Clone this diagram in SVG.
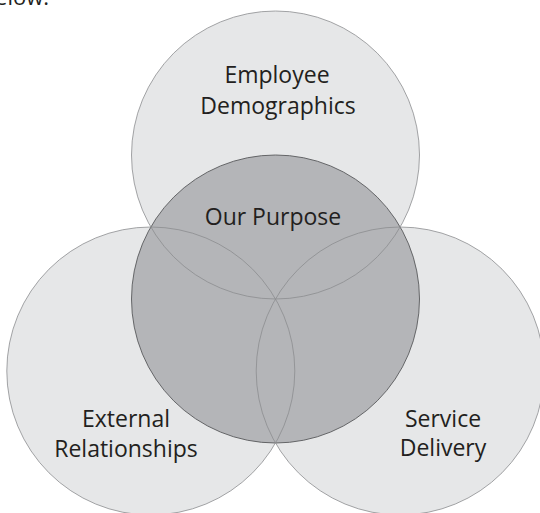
<svg xmlns="http://www.w3.org/2000/svg" width="540" height="513" viewBox="0 0 540 513">
  <style>
    .outer { fill: #e6e7e8; stroke: none; }
    .ring { fill: none; stroke: #8c8d8f; stroke-width: 0.8; }
    .core { fill: #b4b5b8; stroke: #58595b; stroke-width: 0.9; }
    text { font-family: "Open Sans", "Noto Sans", "Liberation Sans", sans-serif; font-size: 23px; fill: #231f20; text-anchor: middle; }
    .body { font-size: 22px; text-anchor: end; }
  </style>
  <rect width="540" height="513" fill="#ffffff"/>
  <text class="body" x="49" y="4.5">below.</text>

  <!-- outer circle fills -->
  <g id="employee-demographics">
    <circle class="outer" cx="275.5" cy="155" r="144"/>
    <text x="277" y="83">Employee</text>
    <text x="278" y="114">Demographics</text>
  </g>
  <g id="external-relationships">
    <circle class="outer" cx="150.8" cy="371" r="144"/>
  </g>
  <g id="service-delivery">
    <circle class="outer" cx="400.2" cy="371" r="144"/>
  </g>

  <!-- central circle -->
  <g id="our-purpose">
    <circle class="core" cx="275.5" cy="299" r="144"/>
    <text x="273" y="225">Our Purpose</text>
  </g>

  <!-- outlines of the outer circles drawn over the centre -->
  <g id="outlines">
    <circle class="ring" cx="275.5" cy="155" r="144"/>
    <circle class="ring" cx="150.8" cy="371" r="144"/>
    <circle class="ring" cx="400.2" cy="371" r="144"/>
  </g>

  <g id="labels">
    <text x="126" y="427">External</text>
    <text x="126" y="457">Relationships</text>
    <text x="443" y="427">Service</text>
    <text x="443" y="456">Delivery</text>
  </g>
</svg>
